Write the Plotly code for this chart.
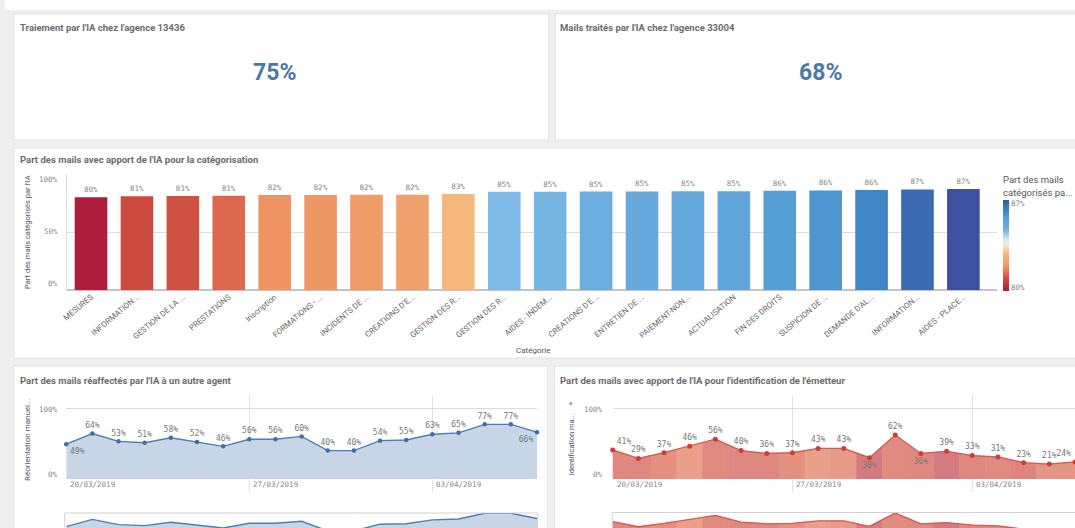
import pandas as pd
import plotly.graph_objects as go

# ---------------- data ----------------
kpi_titles = ["Traiement par l'IA chez l'agence 13436",
              "Mails traités par l'IA chez l'agence 33004"]
kpi_values = [0.75, 0.68]

bar_title = "Part des mails avec apport de l'IA pour la catégorisation"
bar_categories = ["MESURES", "INFORMATION...", "GESTION DE LA ...", "PRESTATIONS",
                  "Inscription", "FORMATIONS - ...", "INCIDENTS DE ...", "CREATIONS D'E...",
                  "GESTION DES R...", "GESTION DES R...", "AIDES - INDEM...", "CREATIONS D'E...",
                  "ENTRETIEN DE ...", "PAIEMENT-NON...", "ACTUALISATION", "FIN DES DROITS",
                  "SUSPICION DE ...", "DEMANDE D'AL...", "INFORMATION...", "AIDES - PLACE..."]
bar_values = [0.800, 0.809, 0.810, 0.813, 0.819, 0.820, 0.821, 0.822, 0.828, 0.846,
              0.847, 0.849, 0.850, 0.851, 0.852, 0.856, 0.858, 0.862, 0.867, 0.870]
bar_ytitle = "Part des mails catégorisés par l'IA"
bar_xtitle = "Catégorie"
bar_legend_title = ["Part des mails", "catégorisés pa..."]
bar_yticks = [0, 0.5, 1]
bar_cbar_labels = ["80%", "87%"]

dates = ["2019-03-20", "2019-03-21", "2019-03-22", "2019-03-23", "2019-03-24",
         "2019-03-25", "2019-03-26", "2019-03-27", "2019-03-28", "2019-03-29",
         "2019-03-30", "2019-03-31", "2019-04-01", "2019-04-02", "2019-04-03",
         "2019-04-04", "2019-04-05", "2019-04-06", "2019-04-07"]
tick_dates = ["2019-03-20", "2019-03-27", "2019-04-03"]
tick_date_labels = ["20/03/2019", "27/03/2019", "03/04/2019"]

reaffect_title = "Part des mails réaffectés par l'IA à un autre agent"
reaffect_ytitle = "Réorientation manuel..."
reaffect_values = [0.49, 0.64, 0.53, 0.51, 0.58, 0.52, 0.46, 0.56, 0.56, 0.60,
                   0.40, 0.40, 0.54, 0.55, 0.63, 0.65, 0.77, 0.77, 0.66]

identif_title = "Part des mails avec apport de l'IA pour l'identification de l'émetteur"
identif_ytitle = "Identification ma..."
identif_values = [0.41, 0.29, 0.37, 0.46, 0.56, 0.40, 0.36, 0.37, 0.43, 0.43,
                  0.30, 0.62, 0.36, 0.39, 0.33, 0.31, 0.23, 0.21, 0.24]
line_yticks = [0, 1]

# ---------------- styles ----------------
W, H = 1075, 528
MONO = "DejaVu Sans Mono"
SANS = "Roboto"
GRAY_BG = "#efefef"

div_scale = [
    [0.00, "#ae1c3e"], [0.13, "#cb4a3f"], [0.19, "#df6a4f"], [0.27, "#ee9463"],
    [0.40, "#f5b77c"], [0.50, "#fbe4c9"], [0.56, "#dcecf8"], [0.66, "#7cb9e5"],
    [0.71, "#68aadd"], [0.80, "#569ed6"], [0.88, "#3e88c8"], [0.95, "#3a6db4"],
    [1.00, "#3c52a1"],
]
identif_band_colors = ["#e0877f", "#e0877f", "#e48f80", "#eb9f8a", "#e08a80",
                       "#df8780", "#df8780", "#e4917f", "#e9a08a", "#e79a88",
                       "#d47b82", "#e08a80", "#e08880", "#d47b82", "#e0887f",
                       "#e08a80", "#de8580", "#e59584", "#e59584"]
reaffect_textpos = ["bottom right"] + ["top center"] * 17 + ["bottom left"]
identif_textpos = ["top right"] + ["top center"] * 9 + ["bottom center", "top center",
                   "bottom center"] + ["top center"] * 5 + ["top left"]


def X(p):
    return p / W


def Y(p):
    return 1 - p / H


fig = go.Figure()

# ---------------- bar chart ----------------
fig.add_trace(go.Bar(
    x=list(range(len(bar_categories))), y=bar_values, width=0.71,
    marker=dict(color=bar_values, colorscale=div_scale, cmin=bar_values[0], cmax=bar_values[-1],
                line=dict(width=0),
                colorbar=dict(x=X(1003), xanchor="left", y=Y(291), yanchor="bottom",
                              len=91 / H, lenmode="fraction", thickness=6, outlinewidth=0,
                              tickvals=[bar_values[0] + 0.0025, bar_values[-1] - 0.0025],
                              ticktext=bar_cbar_labels, ticks="",
                              tickfont=dict(family=MONO, size=7.5, color="#888"),
                              xpad=0, ypad=0)),
    texttemplate="%{y:.0%}", textposition="outside",
    textfont=dict(family=MONO, size=7.5, color="#888"), cliponaxis=False,
    hoverinfo="skip", xaxis="x", yaxis="y", showlegend=False))

# ---------------- left line chart ----------------
for ax_x, ax_y in (("x2", "y2"), ("x4", "y4")):
    main = ax_x == "x2"
    fig.add_trace(go.Scatter(
        x=dates, y=reaffect_values, mode="lines+markers+text" if main else "lines",
        fill="tozeroy", fillcolor="#c6d6e6",
        line=dict(color="#4d7db3", width=1.4),
        marker=dict(size=4.5, color="#3c6fa8"),
        texttemplate="%{y:.0%}" if main else None,
        textposition=reaffect_textpos if main else None,
        textfont=dict(family=MONO, size=8, color="#777"),
        cliponaxis=not main, hoverinfo="skip", showlegend=False,
        xaxis=ax_x, yaxis=ax_y))

# ---------------- right line chart (banded area) ----------------
d = pd.to_datetime(dates)
half = pd.Timedelta(hours=12)
n = len(dates)
for ax_x, ax_y in (("x3", "y3"), ("x5", "y5")):
    for i in range(n):
        v = identif_values
        xl = d[i] - half if i > 0 else d[i]
        xr = d[i] + half if i < n - 1 else d[i]
        yl = (v[i - 1] + v[i]) / 2 if i > 0 else v[i]
        yr = (v[i] + v[i + 1]) / 2 if i < n - 1 else v[i]
        fig.add_trace(go.Scatter(
            x=[xl, xl, d[i], xr, xr, xl], y=[0, yl, v[i], yr, 0, 0],
            mode="lines", fill="toself", fillcolor=identif_band_colors[i],
            line=dict(color=identif_band_colors[i], width=0.6),
            hoverinfo="skip", showlegend=False, xaxis=ax_x, yaxis=ax_y))
    main = ax_x == "x3"
    fig.add_trace(go.Scatter(
        x=dates, y=identif_values, mode="lines+markers+text" if main else "lines",
        line=dict(color="#d65a50", width=1.3),
        marker=dict(size=5, color="#cf3d36"),
        texttemplate="%{y:.0%}" if main else None,
        textposition=identif_textpos if main else None,
        textfont=dict(family=MONO, size=8, color="#777"),
        cliponaxis=not main, hoverinfo="skip", showlegend=False,
        xaxis=ax_x, yaxis=ax_y))

# ---------------- axes ----------------
line_top = (479 - 395) / (479 - 408)
fig.update_layout(
    width=W, height=H, margin=dict(l=0, r=0, t=0, b=0),
    paper_bgcolor=GRAY_BG, plot_bgcolor="rgba(0,0,0,0)",
    xaxis=dict(domain=[X(62), X(997)], range=[-0.53, 19.74], anchor="y",
               tickmode="array", tickvals=list(range(len(bar_categories))),
               ticktext=bar_categories, tickangle=-40,
               tickfont=dict(family=SANS, size=8, color="#666"),
               showgrid=False, zeroline=False, showline=False, ticks=""),
    yaxis=dict(domain=[Y(290), Y(174)], range=[0, 1], anchor="x",
               tickmode="array", tickvals=bar_yticks, showticklabels=False,
               gridcolor="#dcdcdc", gridwidth=1, zeroline=True, zerolinecolor="#c4c4c4",
               showline=True, linecolor="#dedede", ticks=""),
    xaxis2=dict(domain=[X(61.5), X(534.5)], range=[dates[0], dates[-1]], anchor="y2",
                type="date", tickmode="array", tickvals=tick_dates, showticklabels=False,
                showgrid=True, gridcolor="#e2e2e2", zeroline=False, ticks=""),
    yaxis2=dict(domain=[Y(479), Y(395)], range=[0, line_top], anchor="x2",
                tickmode="array", tickvals=line_yticks, showticklabels=False,
                gridcolor="#dcdcdc", zeroline=False, ticks=""),
    xaxis3=dict(domain=[X(610.5), 1.0], range=[dates[0], dates[-1]], anchor="y3",
                type="date", tickmode="array", tickvals=tick_dates, showticklabels=False,
                showgrid=True, gridcolor="#e2e2e2", zeroline=False, ticks=""),
    yaxis3=dict(domain=[Y(479), Y(395)], range=[0, line_top], anchor="x3",
                tickmode="array", tickvals=line_yticks, showticklabels=False,
                gridcolor="#dcdcdc", zeroline=False, ticks=""),
    xaxis4=dict(domain=[X(61.5), X(534.5)], range=[dates[0], dates[-1]], anchor="y4",
                type="date", visible=False),
    yaxis4=dict(domain=[0, Y(513)], range=[0.46, 0.775], anchor="x4", visible=False),
    xaxis5=dict(domain=[X(610.5), 1.0], range=[dates[0], dates[-1]], anchor="y5",
                type="date", visible=False),
    yaxis5=dict(domain=[0, Y(512.5)], range=[0.26, 0.63], anchor="x5", visible=False),
)

# ---------------- panels & decorations ----------------
shapes = [
    dict(type="rect", xref="paper", yref="paper", x0=0, x1=1, y0=Y(10), y1=1,
         fillcolor="white", line=dict(width=0), layer="below"),
]
for (x0, y0, x1, y1) in [(9, 14, 546, 140), (553, 14, 1090, 140), (9, 148, 1090, 358),
                         (9, 366, 545, 560), (552, 366, 1090, 560)]:
    shapes.append(dict(type="rect", xref="paper", yref="paper", x0=X(x0), x1=X(x1),
                       y0=Y(y1), y1=Y(y0), fillcolor="white",
                       line=dict(color="#e3e3e3", width=1), layer="below"))
# mini chart frames
for (x0, x1, top) in [(60, 535, 513), (610, 1090, 512.5)]:
    shapes.append(dict(type="rect", xref="paper", yref="paper", x0=X(x0), x1=X(x1),
                       y0=-0.1, y1=Y(top), fillcolor="rgba(0,0,0,0)",
                       line=dict(color="#d2d2d2", width=1), layer="above"))
# date gridline extensions below the axis
for xr in ("x2", "x3"):
    for td in tick_dates[1:]:
        shapes.append(dict(type="line", xref=xr, yref="paper", x0=td, x1=td,
                           y0=Y(479), y1=Y(492), line=dict(color="#e2e2e2", width=1)))

ann = []


def text(x, y, s, size=8, color="#666", family=SANS, xanchor="left", angle=0, bold=False):
    ann.append(dict(x=X(x), y=Y(y), xref="paper", yref="paper", showarrow=False,
                    text=f"<b>{s}</b>" if bold else s, xanchor=xanchor, yanchor="middle",
                    textangle=angle, font=dict(family=family, size=size, color=color)))


TS = 9.5
# panel titles
text(13, 27, kpi_titles[0], size=TS, bold=True, color="#6b6b6b")
text(556, 27, kpi_titles[1], size=TS, bold=True, color="#6b6b6b")
text(13, 159, bar_title, size=TS, bold=True, color="#6b6b6b")
text(13, 380, reaffect_title, size=TS, bold=True, color="#6b6b6b")
text(556, 380, identif_title, size=TS, bold=True, color="#6b6b6b")

# KPI values
text(271, 72, f"{kpi_values[0]:.0%}", size=23, bold=True, color="#4a78ab", xanchor="center")
text(819, 72, f"{kpi_values[1]:.0%}", size=23, bold=True, color="#4a78ab", xanchor="center")

# bar chart axis texts
text(22, 232, bar_ytitle, size=7.5, color="#555", xanchor="center", angle=-90)
text(530, 350, bar_xtitle, size=8, color="#555", xanchor="center")
for val, yy in zip(bar_yticks, [283, 231, 180]):
    text(55, yy, f"{val:.0%}", size=7.5, color="#888", family=MONO, xanchor="right")
text(1001, 179, bar_legend_title[0], size=9.5, color="#555")
text(1001, 192, bar_legend_title[1], size=9.5, color="#555")

# line chart axis texts
text(22, 440, reaffect_ytitle, size=8, color="#555", xanchor="center", angle=-90)
text(569, 444, identif_ytitle, size=7.5, color="#555", xanchor="center", angle=-90)
text(569, 404, "▾", size=7, color="#999", xanchor="center")
for right_x in (55, 603):
    for val, yy in zip(line_yticks, [474, 409]):
        text(right_x, yy, f"{val:.0%}", size=7.5, color="#888", family=MONO, xanchor="right")
for xr in ("x2", "x3"):
    for td, lab in zip(tick_dates, tick_date_labels):
        ann.append(dict(x=td, xref=xr, y=Y(484), yref="paper", text=lab, showarrow=False,
                        xanchor="left", yanchor="middle", xshift=2,
                        font=dict(family=MONO, size=7.5, color="#888")))

fig.update_layout(shapes=shapes, annotations=ann)
fig.write_html("out.html", config={"displayModeBar": False},
               post_script="document.body.style.margin='0';document.body.style.overflow='hidden';")
